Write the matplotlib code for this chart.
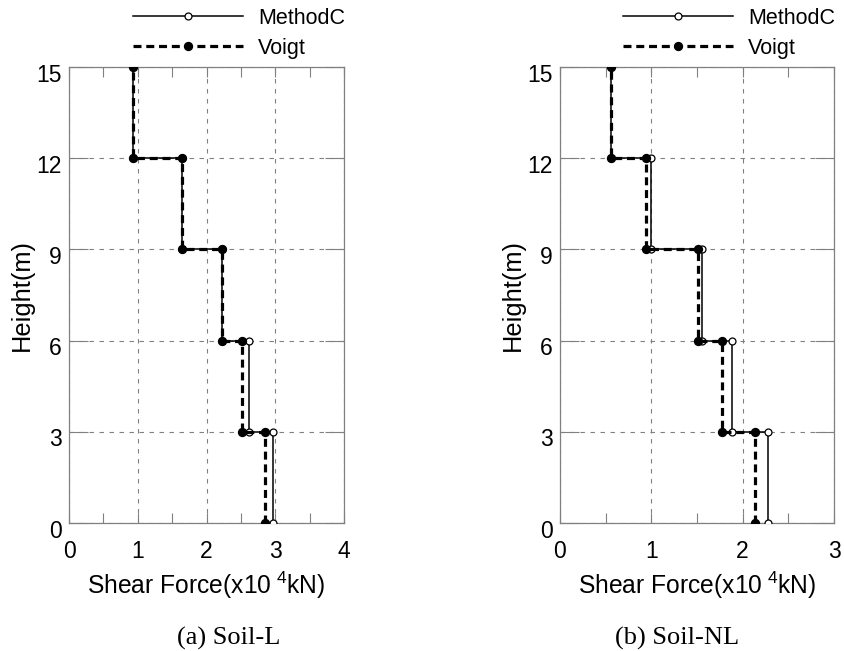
import numpy as np
import matplotlib.pyplot as plt
from matplotlib.ticker import MultipleLocator
from matplotlib.transforms import ScaledTranslation

# storey boundaries (m) and storey shear forces (x10^4 kN), bottom storey first
heights = [0, 3, 6, 9, 12, 15]
soil_l_methodc = [2.97, 2.62, 2.22, 1.64, 0.93]
soil_l_voigt = [2.85, 2.51, 2.22, 1.64, 0.93]
soil_nl_methodc = [2.28, 1.88, 1.56, 1.00, 0.555]
soil_nl_voigt = [2.14, 1.775, 1.51, 0.94, 0.555]
xlims = [4, 3]
captions = ['(a) Soil-L', '(b) Soil-NL']

plt.rcParams['font.family'] = ['Liberation Sans', 'DejaVu Sans']
plt.rcParams['mathtext.fontset'] = 'custom'
plt.rcParams['mathtext.rm'] = 'Liberation Sans'

W, H = 844, 651
fig = plt.figure(figsize=(W / 100, H / 100), dpi=100)

GRAY = '#808080'


def steps(values):
    # each storey is a vertical segment from its floor to its ceiling
    xs = np.repeat(values, 2)
    ys = []
    for lo, hi in zip(heights[:-1], heights[1:]):
        ys += [lo, hi]
    return xs, np.array(ys)


def panel(rect, methodc, voigt, xmax, legend_x, caption, caption_x):
    ax = fig.add_axes(rect)
    x, y = steps(methodc)
    l1, = ax.plot(x, y, '-', color='black', lw=1.1, marker='o', ms=5,
                  mfc='white', mec='black', mew=0.9, zorder=3, label='MethodC')
    x, y = steps(voigt)
    l2, = ax.plot(x, y, color='black', lw=2.3, ls=(0, (2.5, 1.5)),
                  marker='o', ms=5.7, mfc='black', mec='black', zorder=4,
                  label='Voigt')

    ax.set_xlim(0, xmax)
    ax.set_ylim(0, 15)
    ax.xaxis.set_major_locator(MultipleLocator(1))
    ax.xaxis.set_minor_locator(MultipleLocator(0.5))
    ax.yaxis.set_major_locator(MultipleLocator(3))
    ax.tick_params(axis='x', which='both', direction='in', top=True,
                   length=7.5, width=0.8, color=GRAY, labelsize=16.5, pad=12)
    ax.tick_params(axis='y', direction='in', right=True, length=14,
                   width=0.8, color=GRAY, labelsize=16.5, pad=5)
    # y tick labels sit a little below their ticks
    shift = ScaledTranslation(0, -4 / 72, fig.dpi_scale_trans)
    for lab in ax.get_yticklabels():
        lab.set_transform(lab.get_transform() + shift)
    for s in ax.spines.values():
        s.set_color(GRAY)
        s.set_linewidth(0.9)
    ax.grid(True, which='major', color=GRAY, ls=(0, (4, 5)), lw=0.8)
    ax.set_axisbelow(True)

    ax.set_xlabel(r'Shear Force(x10$^{\ 4}$kN)', fontsize=17.7, labelpad=5)
    ax.set_ylabel('Height(m)', fontsize=18.3, labelpad=2)

    fig.legend(handles=[l1, l2], loc='upper left',
               bbox_to_anchor=(legend_x / W, 1 - 8 / H), frameon=False,
               fontsize=15.5, handlelength=5.1, handletextpad=0.7,
               labelspacing=0.4, borderpad=0, borderaxespad=0)

    fig.text(caption_x / W, 1 - 638 / H, caption, ha='center', va='center',
             fontsize=19, family='Liberation Serif')
    return ax


panel([69 / W, 1 - 523 / H, 275 / W, 456 / H], soil_l_methodc, soil_l_voigt,
      xlims[0], 133, captions[0], 229)
panel([560 / W, 1 - 523 / H, 274 / W, 456 / H], soil_nl_methodc, soil_nl_voigt,
      xlims[1], 623, captions[1], 677)

fig.savefig('out.png', dpi=100)
